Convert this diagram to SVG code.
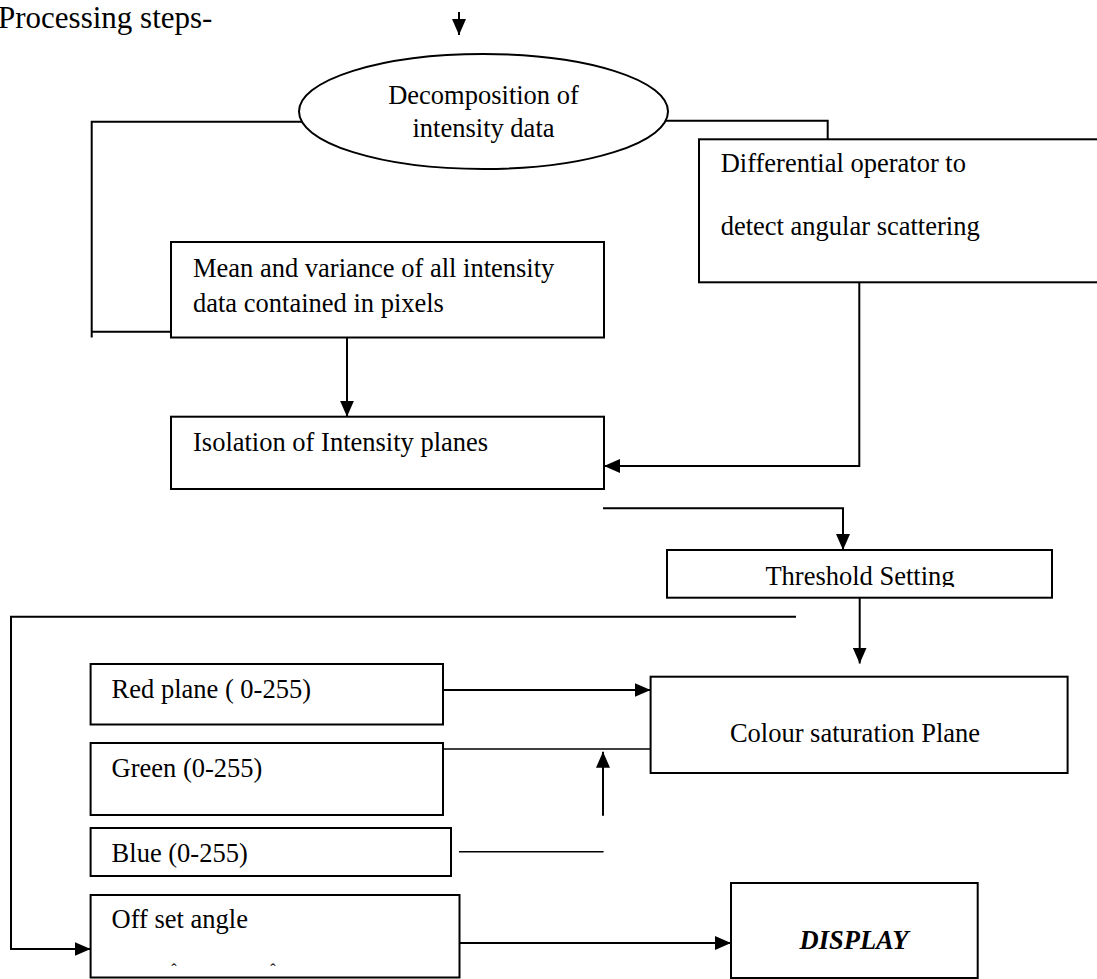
<svg xmlns="http://www.w3.org/2000/svg" width="1097" height="979" viewBox="0 0 1097 979">
<style>
  .box { fill: #fff; stroke: #000; stroke-width: 2; }
  .t { font-family: "Liberation Serif", "Times New Roman", serif; font-size: 26.5px; fill: #000; }
  .c { text-anchor: middle; }
  .ln { fill: none; stroke: #000; stroke-width: 2; }
  .thin { fill: none; stroke: #000; stroke-width: 1.5; }
  .arr { marker-end: url(#ah); }
  .mark { font-family: "Liberation Serif", "Times New Roman", serif; font-size: 16px; fill: #000; text-anchor: middle; }
</style>
<defs>
  <marker id="ah" markerUnits="userSpaceOnUse" markerWidth="16" markerHeight="14" refX="16" refY="7" orient="auto">
    <path d="M0,0 L16,7 L0,14 z" fill="#000"/>
  </marker>
  <clipPath id="clipThr"><rect x="667" y="550" width="385" height="37"/></clipPath>
</defs>
<rect width="1097" height="979" fill="#fff"/>

<text class="t" x="-2" y="28" style="font-size:31px">Processing steps-</text>

<g id="connectors">
  <path class="ln arr" d="M459,12 L459,35"/>
  <path class="ln" d="M302,121.7 L91.7,121.7 L91.7,337.5"/>
  <path class="ln" d="M91.7,331.7 L171,331.7"/>
  <path class="ln" d="M665,120.7 L827.7,120.7 L827.7,145"/>
  <path class="ln arr" d="M347,337.5 L347,416.7"/>
  <path class="ln arr" d="M859.3,282.3 L859.3,466 L604,466"/>
  <path class="ln arr" d="M603,508.3 L843,508.3 L843,550"/>
  <path class="ln arr" d="M859.7,597.7 L859.7,663.5"/>
  <path class="ln arr" d="M796,616.7 L11,616.7 L11,949 L90.6,949"/>
  <path class="ln arr" d="M443,690 L650.6,690"/>
  <path class="thin" d="M443,749 L650.6,749"/>
  <path class="ln arr" d="M603,815.7 L603,751.7"/>
  <path class="thin" d="M459,851.7 L603.6,851.7"/>
  <path class="ln arr" d="M459.5,943 L731,943"/>
</g>

<g id="decomposition">
  <ellipse class="box" cx="483.5" cy="111.5" rx="184.5" ry="57.5"/>
  <text class="t c" x="483.5" y="104">Decomposition of</text>
  <text class="t c" x="483.5" y="137">intensity data</text>
</g>

<g id="differential">
  <rect class="box" x="699" y="139.3" width="420" height="143"/>
  <text class="t" x="720.7" y="171.7">Differential operator to</text>
  <text class="t" x="720.7" y="235">detect angular scattering</text>
</g>

<g id="mean-variance">
  <rect class="box" x="171" y="242" width="433" height="95.5"/>
  <text class="t" x="193" y="276.7">Mean and variance of all intensity</text>
  <text class="t" x="193" y="311.7">data contained in pixels</text>
</g>

<g id="isolation">
  <rect class="box" x="171" y="416.7" width="433" height="72.3"/>
  <text class="t" x="193" y="450.7">Isolation of Intensity planes</text>
</g>

<g id="threshold">
  <rect class="box" x="667" y="550" width="385" height="47.7"/>
  <text class="t c" x="860" y="585" clip-path="url(#clipThr)">Threshold Setting</text>
</g>

<g id="colour-saturation">
  <rect class="box" x="650.6" y="676.7" width="417" height="96.3"/>
  <text class="t c" x="855" y="742">Colour saturation Plane</text>
</g>

<g id="red">
  <rect class="box" x="90.6" y="664" width="352.4" height="60.5"/>
  <text class="t" x="111.6" y="698">Red plane ( 0-255)</text>
</g>

<g id="green">
  <rect class="box" x="90.6" y="743" width="352.4" height="72"/>
  <text class="t" x="111.6" y="776.7">Green (0-255)</text>
</g>

<g id="blue">
  <rect class="box" x="90.6" y="828" width="360.4" height="48"/>
  <text class="t" x="111.6" y="861.7">Blue (0-255)</text>
</g>

<g id="offset">
  <rect class="box" x="90.6" y="895" width="368.9" height="82.5"/>
  <text class="t" x="111.6" y="928">Off set angle</text>
  <text class="mark" x="174" y="975">ˆ</text>
  <text class="mark" x="273" y="975">ˆ</text>
</g>

<g id="display">
  <rect class="box" x="731" y="883" width="246.7" height="95"/>
  <text class="t c" x="854" y="949" style="font-weight:bold;font-style:italic">DISPLAY</text>
</g>
</svg>
